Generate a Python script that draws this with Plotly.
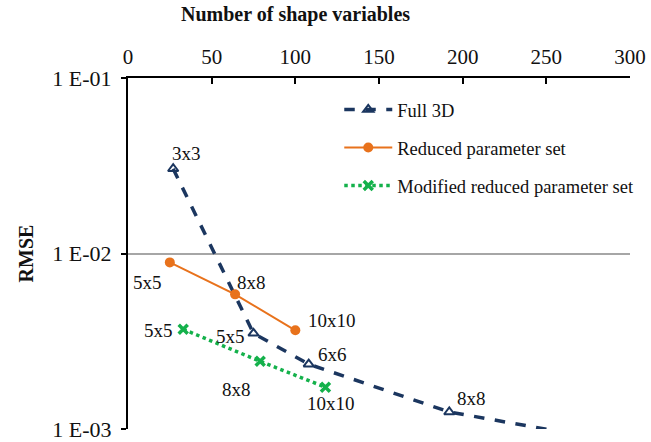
import math
import plotly.graph_objects as go

# ---- data ----
full_x = [27, 75, 108, 192, 300]
full_y = [3.04e-2, 3.51e-3, 2.34e-3, 1.25e-3, 8.2e-4]
full_lbl = ["3x3", "5x5", "6x6", "8x8", ""]

red_x = [25, 64, 100]
red_y = [8.9e-3, 5.85e-3, 3.65e-3]
red_lbl = ["5x5", "8x8", "10x10"]

mod_x = [33, 79, 118]
mod_y = [3.7e-3, 2.43e-3, 1.73e-3]
mod_lbl = ["5x5", "8x8", "10x10"]

x_ticks = [0, 50, 100, 150, 200, 250, 300]
y_ticks = [1e-3, 1e-2, 1e-1]
y_ticktext = ["1 E-03", "1 E-02", "1 E-01"]
x_title = "Number of shape variables"
y_title = "RMSE"

# ---- styling ----
FONT = "Liberation Serif"
NAVY = "#1B365F"
ORANGE = "#E8721C"
GREEN = "#14B14B"
TXT = "#111111"

W, H = 651, 442

full_off = [(13, -15), (-23, 3), (24, -10), (22, -13), (0, 0)]
red_off = [(-22, 20), (16, -12), (37, -10)]
mod_off = [(-25, 1), (-24, 28), (6, 16)]

fig = go.Figure()
fig.add_trace(go.Scatter(
    x=full_x, y=full_y, mode="lines+markers", name="Full 3D",
    line=dict(color=NAVY, width=3.5, dash="dash"),
    marker=dict(symbol="triangle-up-open", size=9, color=NAVY, line=dict(width=2, color=NAVY)),
    legendgroup="a"))
fig.add_trace(go.Scatter(
    x=red_x, y=red_y, mode="lines+markers", name="Reduced parameter set",
    line=dict(color=ORANGE, width=2),
    marker=dict(symbol="circle", size=10, color=ORANGE),
    legendgroup="b"))
fig.add_trace(go.Scatter(
    x=mod_x, y=mod_y, mode="lines+markers", name="Modified reduced parameter set",
    line=dict(color=GREEN, width=3.5, dash="dot"),
    marker=dict(symbol="x-thin-open", size=9, color=GREEN, line=dict(width=3.5, color=GREEN)),
    legendgroup="c"))

annotations = []
for xs, ys, ls, offs in [(full_x, full_y, full_lbl, full_off),
                         (red_x, red_y, red_lbl, red_off),
                         (mod_x, mod_y, mod_lbl, mod_off)]:
    for x, y, l, (dx, dy) in zip(xs, ys, ls, offs):
        if not l:
            continue
        annotations.append(dict(
            x=x, y=math.log10(y), xref="x", yref="y", text=l,
            showarrow=False, xshift=dx, yshift=-dy,
            font=dict(family=FONT, size=19, color=TXT)))

# x-axis title (placed left of centre, as in the original)
annotations.append(dict(
    x=0.334, y=1, xref="paper", yref="paper", text="<b>%s</b>" % x_title,
    showarrow=False, xanchor="center", yanchor="middle", yshift=64,
    font=dict(family=FONT, size=20, color=TXT)))

fig.update_layout(
    width=W, height=H,
    margin=dict(l=128, r=20, t=78, b=13),
    paper_bgcolor="white", plot_bgcolor="white",
    font=dict(family=FONT, color=TXT),
    showlegend=True,
    legend=dict(x=0.42, y=0.963, xanchor="left", yanchor="top",
                font=dict(family=FONT, size=18.5, color=TXT),
                tracegroupgap=11, traceorder="grouped", itemwidth=48,
                bgcolor="rgba(0,0,0,0)"),
    annotations=annotations,
)
fig.update_xaxes(
    range=[0, 300], side="top", tickvals=x_ticks, automargin=False,
    ticks="inside", ticklen=6, tickwidth=2, tickcolor="black",
    ticklabelstandoff=4,
    showline=True, linecolor="black", linewidth=2,
    showgrid=False, zeroline=False,
    tickfont=dict(family=FONT, size=21, color=TXT),
)
fig.update_yaxes(
    type="log", range=[-3, -1], tickvals=y_ticks, ticktext=y_ticktext,
    automargin=False,
    ticks="outside", ticklen=5, tickwidth=2, tickcolor="black",
    ticklabelstandoff=5,
    showline=True, linecolor="black", linewidth=2,
    showgrid=True, gridcolor="#A6A6A6", gridwidth=1.5,
    zeroline=False,
    tickfont=dict(family=FONT, size=22, color=TXT),
    title=dict(text="<b>%s</b>" % y_title, standoff=13,
               font=dict(family=FONT, size=20, color=TXT)),
)

fig.write_html("out.html",
               config={"displayModeBar": False},
               post_script="document.body.style.margin='0';document.body.style.overflow='hidden';")
